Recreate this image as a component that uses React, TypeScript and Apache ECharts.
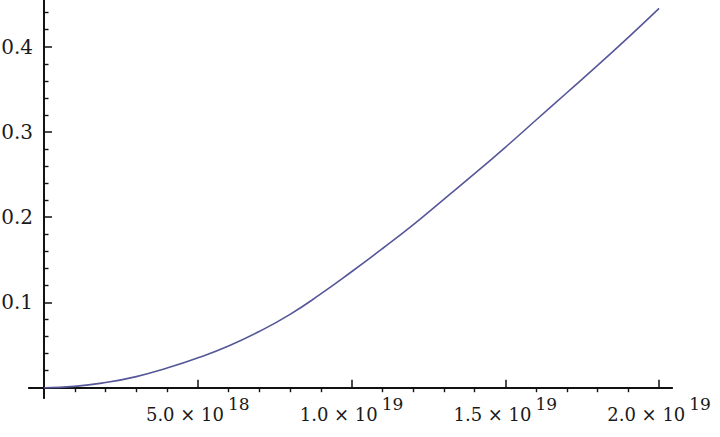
import { useEffect, useRef } from "react";
import * as echarts from "echarts";

// curve samples, x in units of 1e18
const xValues = [0, 1, 2, 3, 4, 5, 6, 7, 8, 9, 10, 11, 12, 13, 14, 15, 16, 17, 18, 19, 20];
const yValues = [
  0, 0.0015, 0.006, 0.013, 0.023, 0.035, 0.049, 0.066, 0.086, 0.11, 0.136,
  0.163, 0.191, 0.221, 0.251, 0.282, 0.314, 0.346, 0.378, 0.411, 0.445,
];

const xTickValues = [5e18, 1e19, 1.5e19, 2e19];
const xTickMantissa = ["5.0", "1.0", "1.5", "2.0"];
const xTickExponent = ["18", "19", "19", "19"];
const xMinorTicks = [1, 2, 3, 4, 6, 7, 8, 9, 11, 12, 13, 14, 16, 17, 18, 19].map((v) => v * 1e18);

const yTickValues = [0.1, 0.2, 0.3, 0.4];
const yTickLabels = ["0.1", "0.2", "0.3", "0.4"];
const yMinorTicks = [
  0.02, 0.04, 0.06, 0.08, 0.12, 0.14, 0.16, 0.18, 0.22, 0.24, 0.26, 0.28,
  0.32, 0.34, 0.36, 0.38, 0.42, 0.44,
];

const X_MIN = -0.488e18;
const X_MAX = 20.42e18;
const Y_MIN = -0.0121;
const Y_MAX = 0.4548;

const FONT = "DejaVu Serif";
const AXIS_COLOR = "#111111";

export default function App() {
  const chartRef = useRef<HTMLDivElement>(null);

  useEffect(() => {
    if (!chartRef.current) return;
    const chart = echarts.init(chartRef.current, undefined, { renderer: "svg" });

    const findIdx = (arr: number[], v: number) =>
      arr.findIndex((t) => Math.abs(t - v) <= Math.abs(t) * 1e-9 + 1e-12);

    const baseAxisLine = {
      onZero: true,
      onZeroAxisIndex: 0,
      lineStyle: { color: AXIS_COLOR, width: 1.8 },
    };

    const option: echarts.EChartsOption = {
      animation: false,
      backgroundColor: "#ffffff",
      grid: {
        left: 29,
        right: 48,
        top: 0,
        bottom: 39,
        containLabel: false,
        outerBoundsMode: "none",
      } as any,
      xAxis: [
        {
          type: "value",
          min: X_MIN,
          max: X_MAX,
          axisLine: baseAxisLine,
          axisTick: {
            inside: true,
            length: 8,
            customValues: xTickValues,
            lineStyle: { color: AXIS_COLOR, width: 1.5 },
          },
          axisLabel: {
            customValues: xTickValues,
            // labels are placed from the grid edge, which sits below the zero line
            margin: -3,
            formatter: (value: number) => {
              const i = findIdx(xTickValues, value);
              if (i < 0) return "";
              return `{b|${xTickMantissa[i]} × 10}{s|${xTickExponent[i]}}`;
            },
            rich: {
              b: {
                fontFamily: FONT,
                fontSize: 18,
                color: "#1a1a1a",
                height: 19,
                lineHeight: 29,
                verticalAlign: "bottom",
              },
              s: {
                fontFamily: FONT,
                fontSize: 17,
                color: "#1a1a1a",
                height: 17,
                lineHeight: 17,
                verticalAlign: "top",
                padding: [0, 0, 0, 4],
              },
            },
          } as any,
          splitLine: { show: false },
        },
        {
          type: "value",
          min: X_MIN,
          max: X_MAX,
          axisLine: baseAxisLine,
          axisTick: {
            inside: true,
            length: 4.5,
            customValues: xMinorTicks,
            lineStyle: { color: AXIS_COLOR, width: 1.4 },
          } as any,
          axisLabel: { show: false },
          splitLine: { show: false },
        },
      ],
      yAxis: [
        {
          type: "value",
          position: "left",
          min: Y_MIN,
          max: Y_MAX,
          axisLine: baseAxisLine,
          axisTick: {
            inside: true,
            length: 8,
            customValues: yTickValues,
            lineStyle: { color: AXIS_COLOR, width: 1.5 },
          } as any,
          axisLabel: {
            customValues: yTickValues,
            margin: -4,
            fontFamily: FONT,
            fontSize: 20,
            color: "#1a1a1a",
            formatter: (value: number) => {
              const i = findIdx(yTickValues, value);
              return i < 0 ? "" : yTickLabels[i];
            },
          } as any,
          splitLine: { show: false },
        },
        {
          type: "value",
          position: "left",
          min: Y_MIN,
          max: Y_MAX,
          axisLine: baseAxisLine,
          axisTick: {
            inside: true,
            length: 4.5,
            customValues: yMinorTicks,
            lineStyle: { color: AXIS_COLOR, width: 1.4 },
          } as any,
          axisLabel: { show: false },
          splitLine: { show: false },
        },
      ],
      series: [
        {
          type: "line",
          xAxisIndex: 0,
          yAxisIndex: 0,
          data: xValues.map((x, i) => [x * 1e18, yValues[i]]),
          showSymbol: false,
          smooth: 0.5,
          lineStyle: { color: "#56569a", width: 1.6 },
          z: 3,
        },
      ],
    };

    chart.setOption(option);

    return () => {
      chart.dispose();
    };
  }, []);

  return (
    <div
      ref={chartRef}
      style={{
        position: "fixed",
        left: 0,
        top: 0,
        width: 720,
        height: 437,
        background: "#ffffff",
      }}
    />
  );
}
